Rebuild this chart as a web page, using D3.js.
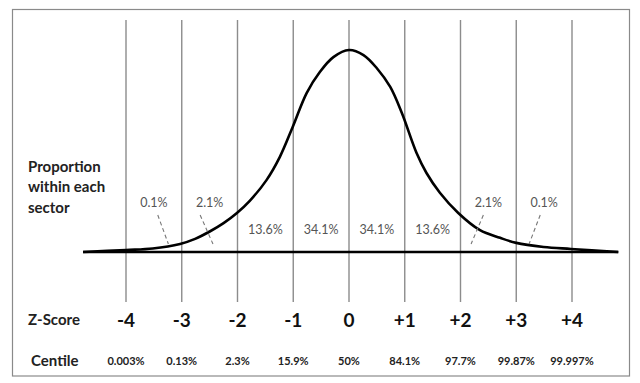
<!DOCTYPE html>
<html>
<head>
<meta charset="utf-8">
<script src="https://cdn.jsdelivr.net/npm/d3@7"></script>
<style>
  html, body { margin: 0; padding: 0; background: #fff; }
  svg { display: block; }
  text { font-family: Lato, "Open Sans", sans-serif; }
</style>
</head>
<body>
<svg id="chart" width="640" height="383"></svg>
<script>
// ---- data ----
const zTicks = [-4, -3, -2, -1, 0, 1, 2, 3, 4];
const zLabels = ["-4", "-3", "-2", "-1", "0", "+1", "+2", "+3", "+4"];
const centiles = ["0.003%", "0.13%", "2.3%", "15.9%", "50%", "84.1%", "97.7%", "99.87%", "99.997%"];

// curve (z, relative density)
const curveZ = [-4.77, -4.0, -3.52, -3.03, -2.76, -2.49, -2.25, -2.01, -1.78, -1.48, -1.24, -1.01, -0.76, -0.52, -0.28, 0.0,
                0.26, 0.50, 0.74, 0.95, 1.21, 1.39, 1.63, 1.96, 2.35, 2.71, 3.0, 3.49, 3.98, 4.83];
const curveD = [0.0, 0.004, 0.007, 0.016, 0.026, 0.041, 0.057, 0.077, 0.101, 0.142, 0.188, 0.247, 0.314, 0.356, 0.385, 0.399,
                0.389, 0.363, 0.326, 0.274, 0.196, 0.156, 0.117, 0.077, 0.043, 0.028, 0.018, 0.010, 0.006, 0.0];
const baselineExtent = [-4.77, 4.83];

// sector proportion labels
const innerLabels = ["13.6%", "34.1%", "34.1%", "13.6%"];
const innerZ = [-1.5, -0.5, 0.5, 1.5];
const tailLabels = ["0.1%", "2.1%", "2.1%", "0.1%"];
const tailZ = [-3.5, -2.5, 2.5, 3.5];
// leader lines: [z at label end, z at curve end]
const leaderZ = [[-3.43, -3.24], [-2.67, -2.44], [2.41, 2.19], [3.43, 3.23]];

const sideLabel = ["Proportion", "within each", "sector"];

// ---- layout ----
const svg = d3.select("#chart");
const x = d3.scaleLinear().domain([-4, 4]).range([126, 572]);
const y = d3.scaleLinear().domain([0, 0.4]).range([252, 49.5]);

// frame
svg.append("rect")
  .attr("x", 12.5).attr("y", 9.5).attr("width", 617).attr("height", 366.5)
  .attr("fill", "none").attr("stroke", "#8a8a8a").attr("stroke-width", 1.2);

// vertical grid lines
svg.append("g").selectAll("line").data(zTicks).join("line")
  .attr("x1", d => x(d)).attr("x2", d => x(d))
  .attr("y1", 20).attr("y2", 302)
  .attr("stroke", "#8c8c8c").attr("stroke-width", 1.4);

// baseline
svg.append("line")
  .attr("x1", x(baselineExtent[0])).attr("x2", x(baselineExtent[1]))
  .attr("y1", y(0)).attr("y2", y(0))
  .attr("stroke", "#000").attr("stroke-width", 2.4);

// curve
const pts = curveZ.map((z, i) => [z, curveD[i]]);
svg.append("path")
  .datum(pts)
  .attr("d", d3.line().x(d => x(d[0])).y(d => y(d[1])).curve(d3.curveCatmullRom.alpha(0.5)))
  .attr("fill", "none").attr("stroke", "#000").attr("stroke-width", 2.6)
  .attr("stroke-linejoin", "round");

// leader lines
svg.append("g").selectAll("line").data(leaderZ).join("line")
  .attr("x1", d => x(d[0])).attr("y1", 215)
  .attr("x2", d => x(d[1])).attr("y2", 244)
  .attr("stroke", "#777").attr("stroke-width", 1.1)
  .attr("stroke-dasharray", "4,3");

// tail labels
svg.append("g").selectAll("text").data(tailLabels).join("text")
  .attr("x", (d, i) => x(tailZ[i])).attr("y", 207)
  .attr("text-anchor", "middle").attr("font-size", 12.5).attr("fill", "#555")
  .text(d => d);

// inner labels
svg.append("g").selectAll("text").data(innerLabels).join("text")
  .attr("x", (d, i) => x(innerZ[i])).attr("y", 233.5)
  .attr("text-anchor", "middle").attr("font-size", 12.5).attr("fill", "#555")
  .text(d => d);

// side label
svg.append("g").selectAll("text").data(sideLabel).join("text")
  .attr("x", 28).attr("y", (d, i) => 171.5 + i * 20.5)
  .attr("font-size", 15).attr("font-weight", "bold").attr("fill", "#222")
  .text(d => d);

// z-score row
svg.append("text").attr("x", 28).attr("y", 325)
  .attr("font-size", 15).attr("font-weight", "bold").attr("fill", "#222").text("Z-Score");
svg.append("g").selectAll("text").data(zLabels).join("text")
  .attr("x", (d, i) => x(zTicks[i])).attr("y", 326.5)
  .attr("text-anchor", "middle").attr("font-size", 19).attr("font-weight", "bold").attr("fill", "#111")
  .text(d => d);

// centile row
svg.append("text").attr("x", 31).attr("y", 366)
  .attr("font-size", 15).attr("font-weight", "bold").attr("fill", "#222").text("Centile");
svg.append("g").selectAll("text").data(centiles).join("text")
  .attr("x", (d, i) => x(zTicks[i])).attr("y", 365)
  .attr("text-anchor", "middle").attr("font-size", 11).attr("font-weight", "bold").attr("fill", "#222")
  .text(d => d);
</script>
</body>
</html>
